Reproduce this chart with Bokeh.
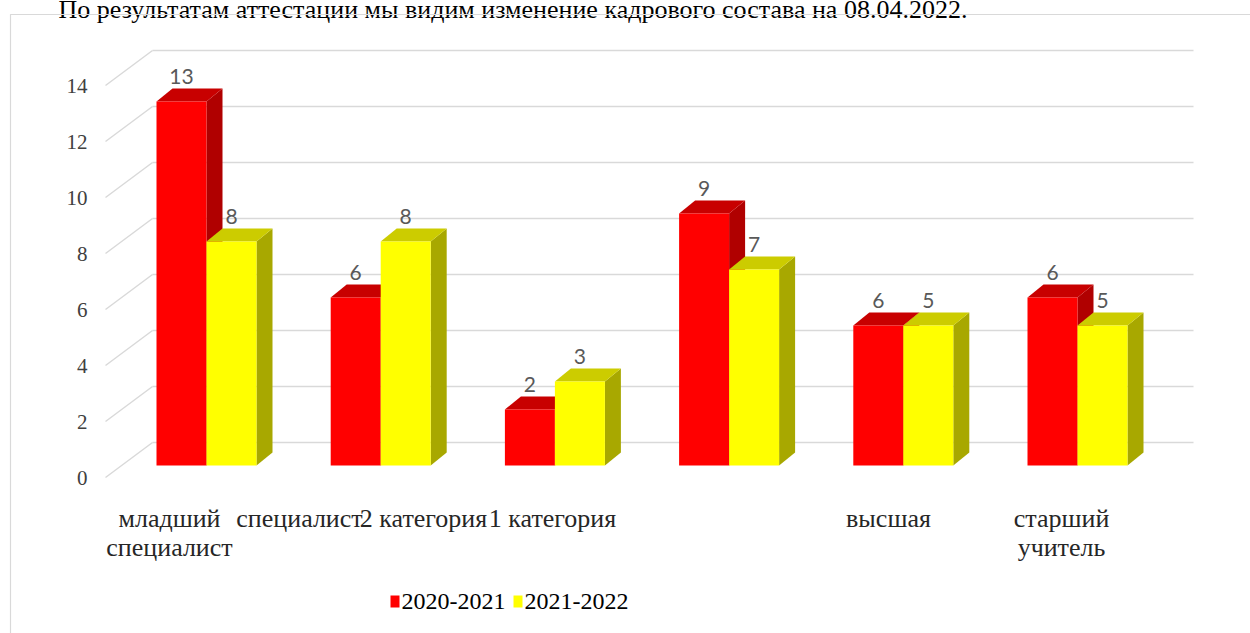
from bokeh.plotting import figure
from bokeh.models import Range1d
from bokeh.core.properties import value
from bokeh.embed import file_html
from bokeh.resources import INLINE

# ---------------- data ----------------
categories = ["младший\nспециалист", "специалист", "2 категория",
              "1 категория", "высшая", "старший\nучитель"]
series_names = ["2020-2021", "2021-2022"]
values_2020 = [13, 6, 2, 9, 5, 6]
values_2021 = [8, 8, 3, 7, 5, 5]
labels_2020 = ["13", "6", "2", "9", "6", "6"]
labels_2021 = ["8", "8", "3", "7", "5", "5"]
y_ticks = [0, 2, 4, 6, 8, 10, 12, 14]
heading = "По результатам аттестации мы видим изменение кадрового состава на 08.04.2022."

# ---------------- layout ----------------
W, H = 1250, 633
PX = 28.0            # pixels per value unit
ZERO_Y = 465.0       # pixel row of bar baseline


def vy(py):
    return (ZERO_Y - py) / PX


FRONT_OFF = 12 / PX   # front plane is lower than bar plane
BACK_OFF = 23 / PX    # back wall is higher than bar plane
WALL_FRONT_X = 105
WALL_BACK_X = 152
WALL_RIGHT_X = 1193
GROUP_X0 = 156
GROUP_STEP = 174.2
BAR_W = 50
DEPTH_X = 16
DEPTH_Y = 13 / PX
label_x = [169, 299, 423, 552, 888, 1061]
CAT_TOP = 503
TICK_LABEL_X = 87
LEGEND_X = [390, 513]
LEGEND_Y = 601
SERIF = value("Liberation Serif")

RED, RED_TOP, RED_SIDE = "#ff0000", "#c80000", "#b00000"
YEL, YEL_TOP, YEL_SIDE = "#ffff00", "#cccc00", "#a8a800"
GRID = "#d9d9d9"

p = figure(width=W, height=H, x_range=Range1d(0, W),
           y_range=Range1d(vy(H), vy(0)),
           output_backend="svg", toolbar_location=None,
           x_axis_location=None, y_axis_location=None,
           min_border=0, outline_line_color=None)
p.xgrid.visible = False
p.ygrid.visible = False
p.background_fill_color = "white"


def one_text(x, y, t, **kw):
    p.text(x=[x], y=[y], text=[t], **kw)


# value-axis tick labels on the front plane
for t in y_ticks:
    one_text(TICK_LABEL_X, t - FRONT_OFF, str(t), text_align="right",
             text_baseline="middle", text_font=SERIF, text_font_size="21px",
             text_color="#404040")

# heading line of the document (cut by the page top in the original)
one_text(58, vy(9), heading, text_font=SERIF, text_font_size="26px",
         text_color="#000000", text_baseline="alphabetic")

# chart border (top and left edges visible)
p.line([10, 10, W], [vy(H), vy(14), vy(14)], line_color=GRID, line_width=1.2)

# back wall gridlines and left wall diagonals
p.multi_line(xs=[[WALL_BACK_X, WALL_RIGHT_X] for t in y_ticks],
             ys=[[t + BACK_OFF, t + BACK_OFF] for t in y_ticks],
             line_color=GRID, line_width=1.5)
p.multi_line(xs=[[WALL_FRONT_X, WALL_BACK_X] for t in y_ticks],
             ys=[[t - FRONT_OFF, t + BACK_OFF] for t in y_ticks],
             line_color=GRID, line_width=1.5)


def bar_faces(vals, shift):
    x0 = [GROUP_X0 + GROUP_STEP * i + shift for i in range(len(vals))]
    x1 = [a + BAR_W for a in x0]
    tops_x = [[a, b, b + DEPTH_X, a + DEPTH_X] for a, b in zip(x0, x1)]
    tops_y = [[v, v, v + DEPTH_Y, v + DEPTH_Y] for v in vals]
    side_x = [[b, b + DEPTH_X, b + DEPTH_X, b] for b in x1]
    side_y = [[0, DEPTH_Y, v + DEPTH_Y, v] for v in vals]
    return x0, x1, tops_x, tops_y, side_x, side_y


for vals, shift, cf, ct, cs in [(values_2020, 0, RED, RED_TOP, RED_SIDE),
                                (values_2021, BAR_W, YEL, YEL_TOP, YEL_SIDE)]:
    x0, x1, tx, ty, sx, sy = bar_faces(vals, shift)
    for i in range(len(vals)):
        p.patch(sx[i], sy[i], fill_color=cs, line_color=None)
        p.patch(tx[i], ty[i], fill_color=ct, line_color=None)
        p.quad(left=[x0[i]], right=[x1[i]], bottom=[0], top=[vals[i]],
               fill_color=cf, line_color=None)

# data labels
for vals, labs, shift in [(values_2020, labels_2020, 0),
                          (values_2021, labels_2021, BAR_W)]:
    for i, (v, lab) in enumerate(zip(vals, labs)):
        one_text(GROUP_X0 + GROUP_STEP * i + shift + BAR_W / 2, v, lab,
                 text_align="center", text_baseline="bottom", y_offset=-18,
                 text_font=value("Lato"), text_font_size="21px",
                 text_color="#595959")

# category labels
for x, c in zip(label_x, categories):
    one_text(x, vy(CAT_TOP), c, text_align="center", text_baseline="top",
             text_font=SERIF, text_font_size="26px", text_line_height=1.0,
             text_color="#262626")

# legend
p.rect(x=[LEGEND_X[0] + 4.5, LEGEND_X[1] + 4.5], y=[vy(LEGEND_Y)] * 2,
       width=9, height=12, width_units="screen", height_units="screen",
       fill_color=[RED, YEL], line_color=None)
for lx, name in zip(LEGEND_X, series_names):
    one_text(lx + 11, vy(LEGEND_Y), name, text_baseline="alphabetic",
             text_font=SERIF, text_font_size="24px", text_color="#000000")

open("out.html", "w").write(file_html(p, INLINE))
